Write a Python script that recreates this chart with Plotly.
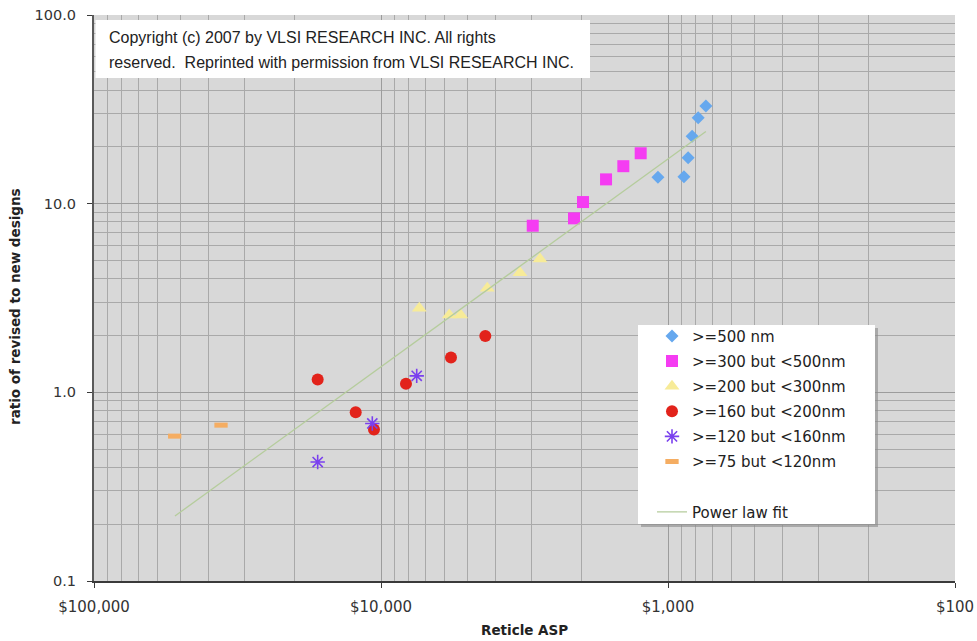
import plotly.graph_objects as go

# ---- data ----
asp_500 = [1084, 880, 851, 824, 785, 738]
ratio_500 = [13.8, 13.9, 17.5, 22.8, 28.5, 32.9]

asp_300 = [2960, 2126, 1978, 1644, 1431, 1245]
ratio_300 = [7.64, 8.36, 10.2, 13.45, 15.8, 18.5]

asp_200 = [7355, 5781, 5277, 4262, 3279, 2793]
ratio_200 = [2.79, 2.57, 2.57, 3.56, 4.30, 5.09]

asp_160 = [16620, 12250, 10578, 8184, 5704, 4330]
ratio_160 = [1.17, 0.785, 0.636, 1.11, 1.53, 1.99]

asp_120 = [16620, 10723, 7509]
ratio_120 = [0.427, 0.684, 1.223]

asp_75 = [52340, 36090]
ratio_75 = [0.586, 0.670]

fit_asp = [52240, 738]
fit_ratio = [0.221, 24.1]

x_tickvals = [100000, 10000, 1000, 100]
x_ticktext = ["$100,000", "$10,000", "$1,000", "$100"]
y_tickvals = [0.1, 1, 10, 100]
y_ticktext = ["0.1", "1.0", "10.0", "100.0"]

series_names = [">=500 nm", ">=300 but <500nm", ">=200 but <300nm",
                ">=160 but <200nm", ">=120 but <160nm", ">=75 but <120nm"]
fit_name = "Power law fit"

# ---- layout geometry (pixels) ----
W, H = 977, 641
L, R, T, B = 94, 22, 15, 60
PW, PH = W - L - R, H - T - B


def px(xp):
    return (xp - L) / PW


def py(yp):
    return (H - B - yp) / PH


fig = go.Figure()

styles = [
    dict(symbol="diamond", size=10, color="#66a8ee"),
    dict(symbol="square", size=12, color="#f53cf2"),
    dict(symbol="triangle-up", size=13, color="#f7eb98"),
    dict(symbol="circle", size=12, color="#e2231b"),
    dict(symbol="asterisk-open", size=12, color="#7a40ee", line=dict(width=1.6, color="#7a40ee")),
    dict(symbol="line-ew-open", size=9.5, color="#f5ad62", line=dict(width=5, color="#f5ad62")),
]
data = [(asp_500, ratio_500), (asp_300, ratio_300), (asp_200, ratio_200),
        (asp_160, ratio_160), (asp_120, ratio_120), (asp_75, ratio_75)]

for i, ((xs, ys), st, nm) in enumerate(zip(data, styles, series_names)):
    fig.add_trace(go.Scatter(x=xs, y=ys, mode="markers", name=nm,
                             legendgroup="g%d" % i, marker=st, legend="legend"))

fig.add_trace(go.Scatter(x=fit_asp, y=fit_ratio, mode="lines", name=fit_name,
                         legend="legend2", line=dict(color="#b5cc9c", width=1.3)))

grid_major = "#9c9c9c"
grid_minor = "#a9a9a9"

fig.update_xaxes(
    type="log", range=[5, 2], tickvals=x_tickvals, ticktext=x_ticktext,
    automargin=False,
    showgrid=True, gridcolor=grid_major, gridwidth=1,
    minor=dict(showgrid=True, gridcolor=grid_minor, gridwidth=1, dtick="D1", ticks=""),
    showline=True, linecolor="#3a3a3a", linewidth=2,
    ticks="outside", ticklen=5, tickcolor="#3a3a3a", tickwidth=1,
    tickfont=dict(family="DejaVu Sans", size=15, color="#333333"),
    ticklabelstandoff=6, zeroline=False,
)
fig.update_yaxes(
    type="log", range=[-1, 2], tickvals=y_tickvals, ticktext=y_ticktext,
    automargin=False,
    showgrid=True, gridcolor=grid_major, gridwidth=1,
    minor=dict(showgrid=True, gridcolor=grid_minor, gridwidth=1, dtick="D1", ticks=""),
    showline=True, linecolor="#5a5a5a", linewidth=2,
    ticks="outside", ticklen=5, tickcolor="#3a3a3a", tickwidth=1,
    tickfont=dict(family="DejaVu Sans", size=14.5, color="#333333"),
    ticklabelstandoff=8, zeroline=False,
)

shapes = [
    # copyright box
    dict(type="rect", xref="paper", yref="paper", x0=px(95.5), x1=px(590), y0=py(78), y1=py(20),
         fillcolor="white", line=dict(width=0), layer="above"),
    # legend shadow
    dict(type="rect", xref="paper", yref="paper", x0=px(641), x1=px(878), y0=py(527), y1=py(328),
         fillcolor="#8a8a8a", line=dict(width=0), layer="above", opacity=0.6),
    # legend box
    dict(type="rect", xref="paper", yref="paper", x0=px(638), x1=px(875), y0=py(524), y1=py(325),
         fillcolor="white", line=dict(width=0), layer="above"),
]

annotations = [
    dict(text="Copyright (c) 2007 by VLSI RESEARCH INC. All rights", xref="paper", yref="paper",
         x=px(107), y=py(37.5), xanchor="left", yanchor="middle", showarrow=False,
         font=dict(family="Liberation Sans", size=16, color="#222222")),
    dict(text="reserved.\u00a0 Reprinted with permission from VLSI RESEARCH INC.", xref="paper", yref="paper",
         x=px(107), y=py(62), xanchor="left", yanchor="middle", showarrow=False,
         font=dict(family="Liberation Sans", size=16, color="#222222")),
    dict(text="<b>Reticle ASP</b>", xref="paper", yref="paper", x=px(524), y=py(630),
         xanchor="center", yanchor="middle", showarrow=False,
         font=dict(family="DejaVu Sans", size=13.5, color="#222222")),
    dict(text="<b>ratio of revised to new designs</b>", xref="paper", yref="paper", x=px(15), y=py(307),
         xanchor="center", yanchor="middle", showarrow=False, textangle=-90,
         font=dict(family="DejaVu Sans", size=13.5, color="#222222")),
]

legend_font = dict(family="DejaVu Sans", size=15, color="#222222")

fig.update_layout(
    width=W, height=H,
    margin=dict(l=L, r=R, t=T, b=B, pad=0, autoexpand=False),
    paper_bgcolor="white", plot_bgcolor="#d8d8d8",
    shapes=shapes, annotations=annotations,
    showlegend=True,
    legend=dict(x=px(652), y=py(319.7), xanchor="left", yanchor="top",
                bgcolor="rgba(0,0,0,0)", borderwidth=0,
                traceorder="grouped", tracegroupgap=2.6, font=legend_font),
    legend2=dict(x=px(652), y=py(495.7), xanchor="left", yanchor="top",
                 bgcolor="rgba(0,0,0,0)", borderwidth=0, font=legend_font),
    hovermode=False,
)

fig.write_html("out.html",
               config={"displayModeBar": False},
               post_script="document.body.style.margin='0';document.body.style.padding='0';")
